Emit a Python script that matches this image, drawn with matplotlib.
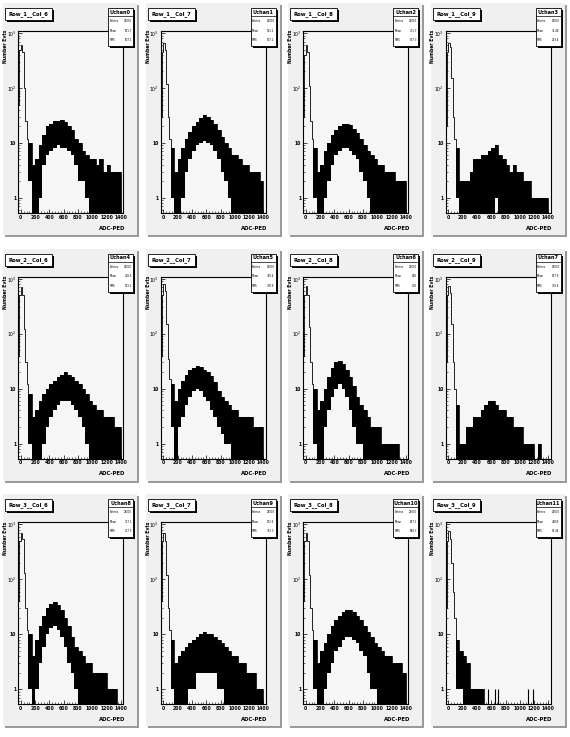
import matplotlib
matplotlib.use('Agg')
import matplotlib.pyplot as plt
from matplotlib.patches import Rectangle
from matplotlib.ticker import FixedLocator, MultipleLocator, LogLocator, NullFormatter

W, H = 570, 737

# histogram binning: fine pedestal bins, then 50-wide bins
ped_edges = [-40, -20, 0, 20, 40, 60, 80, 100]
body_edges = list(range(100, 1401, 50))
xticks = [0, 200, 400, 600, 800, 1000, 1200, 1400]

titles = ['Row_1__Col_6', 'Row_1__Col_7', 'Row_1__Col_8', 'Row_1__Col_9',
          'Row_2__Col_6', 'Row_2__Col_7', 'Row_2__Col_8', 'Row_2__Col_9',
          'Row_3__Col_6', 'Row_3__Col_7', 'Row_3__Col_8', 'Row_3__Col_9']
chans = ['Uchan0', 'Uchan1', 'Uchan2', 'Uchan3', 'Uchan4', 'Uchan5',
         'Uchan6', 'Uchan7', 'Uchan8', 'Uchan9', 'Uchan10', 'Uchan11']
entries = ['25000'] * 12
means = ['501.7', '531.1', '471.7', '71.48', '458.5', '349.4',
         '298', '147.9', '317.1', '172.6', '547.1', '4.059']
rms = ['507.1', '517.1', '517.3', '243.4', '513.2', '478.9',
       '428', '329.4', '457.3', '333.3', '584.7', '53.44']

# pedestal counts (bins of 20 from -40 to 100)
ped = [
    [50, 500, 600, 450, 100, 25, 12],
    [30, 450, 650, 500, 120, 30, 12],
    [30, 400, 600, 450, 110, 25, 12],
    [20, 450, 650, 550, 150, 30, 12],
    [40, 500, 700, 500, 120, 30, 12],
    [40, 500, 800, 600, 150, 35, 15],
    [40, 500, 750, 500, 130, 30, 12],
    [30, 500, 750, 550, 150, 30, 10],
    [40, 500, 700, 550, 130, 30, 12],
    [40, 500, 700, 500, 120, 30, 12],
    [40, 500, 700, 500, 120, 30, 12],
    [30, 500, 750, 550, 200, 60, 20],
]

# upper envelope of the fluctuating counts (bins of 50 from 100 to 1400)
hi = [
    [10, 4, 5, 9, 14, 20, 22, 25, 25, 26, 24, 20, 17, 12, 10, 7, 6, 5, 5, 4, 5, 3, 4, 3, 3, 3],
    [8, 3, 5, 8, 12, 16, 20, 24, 28, 32, 30, 26, 22, 17, 13, 10, 8, 6, 6, 5, 4, 4, 3, 3, 3, 2],
    [8, 3, 4, 7, 10, 14, 17, 20, 22, 22, 21, 18, 15, 12, 9, 7, 6, 5, 4, 4, 3, 3, 3, 2, 2, 2],
    [8, 2, 2, 2, 3, 5, 5, 6, 6, 7, 8, 9, 6, 5, 4, 3, 4, 3, 3, 2, 2, 1, 1, 1, 1, 1],
    [8, 3, 4, 6, 8, 10, 12, 14, 16, 18, 20, 18, 16, 14, 12, 10, 8, 6, 5, 4, 4, 3, 3, 3, 2, 2],
    [12, 6, 10, 14, 18, 22, 24, 26, 25, 22, 20, 17, 13, 9, 7, 6, 5, 4, 4, 3, 3, 3, 3, 2, 2, 2],
    [10, 4, 6, 10, 16, 24, 30, 32, 28, 22, 16, 11, 7, 5, 4, 3, 2, 2, 2, 1, 1, 1, 1, 1, 0, 0],
    [5, 1, 1, 2, 2, 3, 3, 4, 5, 6, 6, 5, 4, 4, 3, 3, 2, 2, 2, 1, 1, 1, 0, 1, 0, 0],
    [10, 4, 8, 14, 22, 30, 36, 38, 34, 28, 20, 14, 9, 6, 5, 4, 3, 3, 2, 2, 2, 2, 1, 1, 1, 0],
    [8, 3, 4, 5, 6, 7, 8, 9, 10, 11, 10, 10, 9, 8, 7, 6, 5, 4, 4, 3, 3, 2, 2, 2, 1, 1],
    [8, 3, 5, 7, 10, 14, 18, 22, 26, 28, 28, 26, 22, 18, 14, 11, 9, 7, 6, 5, 4, 4, 3, 3, 3, 2],
    [8, 5, 4, 3, 1, 1, 1, 1, 0, 0, 0, 0, 0, 0, 0, 0, 0, 0, 0, 0, 0, 0, 0, 0, 0, 0],
]

# lower envelope (0 = empty bin, drawn down to the frame)
lo = [
    [2, 0, 0, 1, 4, 6, 7, 8, 9, 8, 8, 7, 6, 4, 2, 2, 1, 0, 0, 0, 0, 0, 0, 0, 0, 0],
    [1, 0, 0, 1, 3, 5, 7, 9, 10, 11, 10, 9, 7, 5, 3, 2, 1, 0, 0, 0, 0, 0, 0, 0, 0, 0],
    [1, 0, 0, 1, 2, 4, 6, 7, 8, 8, 7, 6, 5, 3, 2, 1, 0, 0, 0, 0, 0, 0, 0, 0, 0, 0],
    [1, 0, 0, 0, 0, 0, 0, 0, 0, 0, 0, 1, 0, 0, 0, 0, 0, 0, 0, 0, 0, 0, 0, 0, 0, 0],
    [1, 0, 0, 0, 1, 2, 3, 4, 5, 6, 6, 6, 5, 4, 3, 2, 1, 0, 0, 0, 0, 0, 0, 0, 0, 0],
    [2, 0, 2, 3, 5, 7, 9, 10, 9, 7, 6, 4, 3, 2, 1.5, 1, 1, 0, 0, 0, 0, 0, 0, 0, 0, 0],
    [1, 0, 0, 2, 4, 7, 10, 12, 10, 7, 4, 2, 1, 1, 0, 0, 0, 0, 0, 0, 0, 0, 0, 0, 0, 0],
    [0, 0, 0, 0, 0, 0, 0, 0, 0, 0, 0, 0, 0, 0, 0, 0, 0, 0, 0, 0, 0, 0, 0, 0, 0, 0],
    [1, 0, 1, 3, 6, 10, 13, 14, 12, 9, 6, 3, 2, 1, 0, 0, 0, 0, 0, 0, 0, 0, 0, 0, 0, 0],
    [1, 0, 0, 0, 0, 1, 1, 2, 2, 2, 2, 2, 2, 1, 1, 0, 0, 0, 0, 0, 0, 0, 0, 0, 0, 0],
    [1, 0, 0, 1, 2, 3, 5, 6, 8, 9, 9, 8, 7, 5, 4, 2, 1, 1, 0, 0, 0, 0, 0, 0, 0, 0],
    [1, 1, 0, 0, 0, 0, 0, 0, 0, 0, 0, 0, 0, 0, 0, 0, 0, 0, 0, 0, 0, 0, 0, 0, 0, 0],
]

# isolated single-count bins in the sparse channel
spikes_uchan11 = [560, 650, 700, 1110, 1190]

floor = 0.3


def z(v):
    return [floor if a == 0 else a for a in v]


def fx(x):
    return x / W


def fy(y):
    return 1 - y / H


fig = plt.figure(figsize=(W / 100, H / 100), dpi=100)
fig.patch.set_facecolor('white')

bg = fig.add_axes([0, 0, 1, 1])
bg.set_xlim(0, W)
bg.set_ylim(H, 0)
bg.axis('off')

top = fig.add_axes([0, 0, 1, 1], zorder=10)
top.set_xlim(0, W)
top.set_ylim(H, 0)
top.axis('off')
top.patch.set_visible(False)

for i in range(12):
    r, c = divmod(i, 4)
    x0 = 3 + c * 142.5
    y0 = 3 + r * 245.7

    # pad with shadowed border
    bg.add_patch(Rectangle((x0 + 2, y0 + 2), 134, 232, color='#9a9a9a', lw=0))
    bg.add_patch(Rectangle((x0, y0), 134, 232, color='#f0f0f0', lw=0))

    # frame
    fl, fr, ft, fb = x0 + 15, x0 + 120, y0 + 28, y0 + 210
    ax = fig.add_axes([fx(fl), fy(fb), fx(fr - fl), (fb - ft) / H], zorder=5)
    ax.set_facecolor('#f6f6f6')
    ax.stairs(z(ped[i] + hi[i]), ped_edges + body_edges[1:], baseline=floor,
              fill=False, color='k', lw=0.6)
    ax.stairs(z(hi[i]), body_edges, baseline=z(lo[i]), fill=True, color='k', lw=0)
    if i == 11:
        ax.vlines(spikes_uchan11, floor, 1, color='k', lw=0.8)
    ax.set_yscale('log')
    ax.set_xlim(-40, 1430)
    ax.set_ylim(0.53, 1090)
    for s in ax.spines.values():
        s.set_linewidth(0.8)
    ax.xaxis.set_major_locator(FixedLocator(xticks))
    ax.xaxis.set_minor_locator(MultipleLocator(40))
    ax.set_xticklabels([str(t) for t in xticks])
    ax.yaxis.set_major_locator(FixedLocator([1, 10, 100, 1000]))
    ax.set_yticklabels(['1', '10', '$10^{2}$', '$10^{3}$'])
    ax.yaxis.set_minor_locator(LogLocator(base=10, subs=range(2, 10)))
    ax.yaxis.set_minor_formatter(NullFormatter())
    ax.tick_params(which='major', direction='in', length=3, width=0.5,
                   labelsize=3.3, pad=1.2, top=False, right=False)
    ax.tick_params(which='minor', direction='in', length=1.5, width=0.4,
                   top=False, right=False)
    for lab in ax.get_xticklabels() + ax.get_yticklabels():
        lab.set_fontweight('bold')

    # axis titles
    top.text(x0 + 2.5, y0 + 27, 'Number Evts', rotation=90, ha='center', va='top',
             fontsize=3.3, fontweight='bold')
    top.text(x0 + 122, y0 + 225, 'ADC-PED', ha='right', va='center',
             fontsize=3.8, fontweight='bold')

    # title box
    top.add_patch(Rectangle((x0 + 4, y0 + 7), 47, 12, color='k', lw=0))
    top.add_patch(Rectangle((x0 + 2, y0 + 5), 47, 12, facecolor='white',
                            edgecolor='k', lw=0.6))
    top.text(x0 + 25.5, y0 + 11, titles[i], ha='center', va='center',
             fontsize=3.8, fontweight='bold')

    # stats box
    top.add_patch(Rectangle((x0 + 107, y0 + 7), 25, 38, color='k', lw=0))
    top.add_patch(Rectangle((x0 + 105, y0 + 5), 25, 38, facecolor='white',
                            edgecolor='k', lw=0.6))
    top.plot([x0 + 105, x0 + 130], [y0 + 13, y0 + 13], color='k', lw=0.5)
    top.text(x0 + 117.5, y0 + 9, chans[i], ha='center', va='center',
             fontsize=3.6, fontweight='bold')
    for k, (name, val) in enumerate([('Entries', entries[i]), ('Mean', means[i]),
                                     ('RMS', rms[i])]):
        yy = y0 + 18 + k * 9.5
        top.text(x0 + 106.5, yy, name, ha='left', va='center', fontsize=1.9)
        top.text(x0 + 129, yy, val, ha='right', va='center', fontsize=1.9)

fig.savefig('out.png', dpi=100)
